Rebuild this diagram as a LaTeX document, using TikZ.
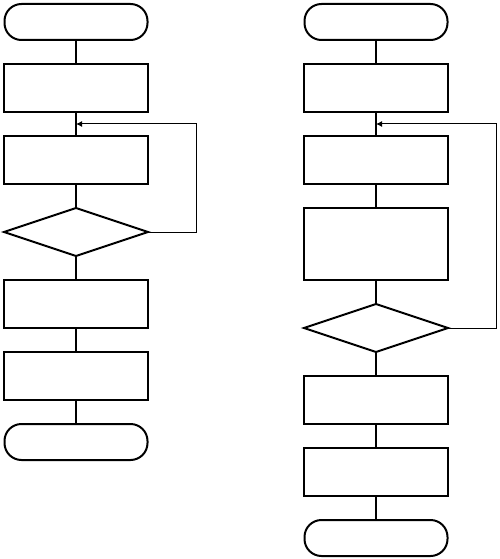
\documentclass[tikz,border=0pt]{standalone}
\usetikzlibrary{arrows.meta,shapes.geometric}
\begin{document}
\begin{tikzpicture}[x=1pt,y=-1pt, every node/.style={inner sep=0pt,outer sep=0pt},
  term/.style={draw,line width=2pt,rounded corners=17pt,minimum width=143pt,minimum height=36pt},
  proc/.style={draw,line width=2pt,minimum width=144pt,minimum height=48pt},
  cond/.style={diamond,draw,line width=2pt,minimum width=144pt,minimum height=48pt},
  l/.style={line width=2pt},
  back/.style={-{Latex[length=6pt,width=6pt]},line width=1pt}]
  \useasboundingbox (0,0) rectangle (499,559);
  % left chart
  \node[term] (ls) at (76,22) {};
  \node[proc] (l1) at (76,88) {};
  \node[proc] (l2) at (76,160) {};
  \node[cond] (lc) at (76,232) {};
  \node[proc] (l3) at (76,304) {};
  \node[proc] (l4) at (76,376) {};
  \node[term] (le) at (76,442) {};
  \coordinate (lj) at (76,124);
  \draw[l] (ls)--(l1); \draw[l] (l1)--(l2); \draw[l] (l2)--(lc);
  \draw[l] (lc)--(l3); \draw[l] (l3)--(l4); \draw[l] (l4)--(le);
  \draw[back] (lc.east) -- (196,232) |- (lj);
  % right chart
  \node[term] (rs) at (376,22) {};
  \node[proc] (r1) at (376,88) {};
  \node[proc] (r2) at (376,160) {};
  \node[proc,minimum height=72pt] (r3) at (376,244) {};
  \node[cond] (rc) at (376,328) {};
  \node[proc] (r4) at (376,400) {};
  \node[proc] (r5) at (376,472) {};
  \node[term] (re) at (376,538) {};
  \coordinate (rj) at (376,124);
  \draw[l] (rs)--(r1); \draw[l] (r1)--(r2); \draw[l] (r2)--(r3); \draw[l] (r3)--(rc);
  \draw[l] (rc)--(r4); \draw[l] (r4)--(r5); \draw[l] (r5)--(re);
  \draw[back] (rc.east) -- (496,328) |- (rj);
\end{tikzpicture}
\end{document}
